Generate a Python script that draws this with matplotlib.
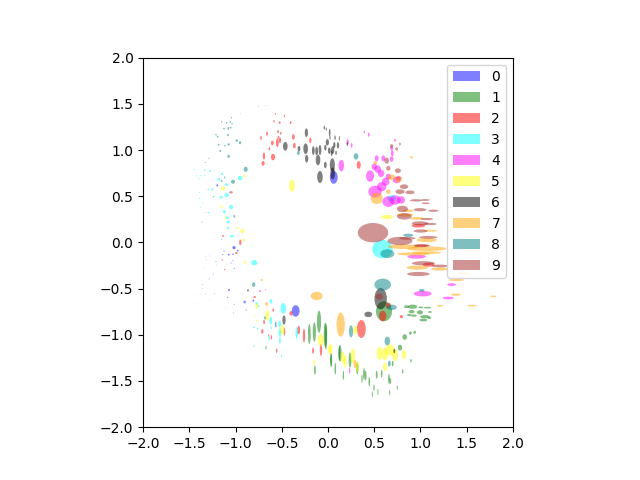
import matplotlib
matplotlib.use('Agg')
import matplotlib.pyplot as plt
from matplotlib.patches import Ellipse

# one list per mixture component, every entry is (mean x, mean y, width, height)
comp_0 = [(.062,.704,.085,.14),(-1.198,.617,.02,.025),(-1.017,-.057,.035,.035),(-.977,-.09,.02,.018),
    (-1.028,-.129,.018,.015),(-1.075,-.133,.02,.02),(-1.125,-.093,.01,.016),(-1.14,-.129,.016,.01),
    (-1.028,-.197,.012,.01),(-1.05,-.223,.012,.01),(-1.014,-.28,.016,.01),(-1.212,-.205,.01,.008),
    (-1.205,-.245,.007,.007),(-1.097,-.234,.008,.006),(-1.284,-.147,.008,.005),(-1.328,-.151,.006,.005),
    (-1.151,.033,.016,.006),(-1.313,-.19,.006,.006),(-1.349,-.28,.006,.006),(-1.241,-.345,.008,.008),
    (-1.284,-.396,.014,.008),(-1.36,-.454,.006,.006),(-1.356,-.5,.008,.006),(-.35,-.742,.085,.125),
    (-1.071,-.515,.02,.025),(-.902,-.645,.025,.03),(-.808,-.631,.02,.025),(-1.014,-.67,.01,.013),
    (-1.23,-.551,.009,.007),(-1.36,-.457,.006,.006),(-1.024,-.764,.007,.011),(-1.107,-.714,.008,.005),
    (-1.284,-.623,.006,.006),(-1.324,-.558,.007,.005),(-1.385,-.562,.007,.005),(-1.432,-.562,.005,.004),
    (-1.482,-.562,.004,.004),(-1.392,-.667,.005,.005),(-1.44,-.66,.004,.004),(-1.486,-.746,.004,.004)]
comp_1 = [(-.097,-.858,.045,.24),(-.148,-.97,.035,.21),(-.202,-.991,.03,.22),(-.029,-1.002,.035,.27),
    (-.022,-1.02,.025,.29),(.036,-1.273,.02,.145),(.079,-1.367,.018,.13),(-.141,-1.381,.02,.1),
    (.123,-1.2,.018,.16),(-.671,-1.139,.012,.045),(.13,-1.2,.035,.18),(.032,-1.273,.018,.145),
    (.166,-1.439,.015,.1),(.238,-1.273,.03,.165),(.317,-1.363,.025,.13),(.39,-1.424,.02,.13),
    (.408,-1.442,.018,.11),(.368,-1.475,.015,.095),(.447,-1.507,.018,.1),(.498,-1.572,.015,.07),
    (.541,-1.619,.012,.065),(.48,-1.644,.012,.07),(.667,-1.626,.012,.06),(.75,-1.572,.012,.05),
    (.527,-1.431,.02,.085),(.581,-1.421,.018,.085),(.66,-1.478,.02,.11),(.675,-1.5,.018,.065),
    (.808,-1.396,.015,.05),(.7,-1.312,.02,.06),(.898,-1.28,.018,.035),(.779,-1.139,.045,.065),
    (.83,-1.024,.05,.06),(.891,-.981,.03,.035),(.938,-.973,.03,.03),(.606,-.746,.175,.215),
    (.916,-.696,.1,.045),(.851,-.696,.06,.03),(1.003,-.703,.05,.02),(1.075,-.706,.085,.018),
    (.905,-.75,.065,.035),(.996,-.757,.065,.045),(1.104,-.753,.045,.018),(.88,-.786,.05,.025),
    (.93,-.793,.06,.025),(1.05,-.804,.11,.035),(1.032,-.84,.085,.03),(1.097,-.818,.045,.02),
    (-1.151,.664,.02,.02),(-1.241,.495,.015,.012)]
comp_2 = [(-.595,.924,.045,.07),(-.693,.935,.025,.08),(-.703,.856,.035,.05),(-.635,1.014,.02,.035),
    (-.602,1.076,.03,.05),(-.548,1.079,.03,.095),(-.52,1.105,.025,.06),(-.725,1.13,.018,.045),
    (-.66,1.177,.02,.045),(-.541,1.198,.02,.035),(-.512,1.18,.018,.03),(-.537,1.137,.018,.035),
    (-.584,1.31,.015,.03),(-.523,1.296,.02,.03),(-.404,1.296,.018,.035),(-.472,1.368,.012,.03),
    (-.57,1.39,.012,.02),(-.375,1.141,.03,.06),(-.364,1.047,.03,.06),(-.191,1.105,.025,.06),
    (.332,.838,.045,.085),(-.949,.0,.025,.06),(-1.136,.069,.02,.02),(-.992,-.115,.03,.02),
    (-1.147,-.19,.015,.018),(-1.118,-.295,.015,.015),(-.754,1.473,.008,.01),(-.678,1.48,.006,.01),
    (-.945,1.39,.007,.007),(-1.363,.221,.012,.012),(-1.32,.325,.008,.008),(.361,-.937,.095,.195),
    (.592,-.797,.08,.115),(.653,-.685,.06,.065),(.794,-.804,.035,.035),(.765,.693,.06,.05),
    (1.014,-.035,.14,.02),(1.09,-.241,.13,.045),(.978,.181,.15,.04),(-.4,-.768,.035,.05),
    (-.592,-.732,.02,.035),(-.692,-.862,.02,.045),(-.711,-.963,.025,.05),(-.613,-1.027,.015,.05),
    (-.642,-1.006,.012,.03),(-.472,-.966,.018,.085),(-.317,-.948,.03,.095),(-.26,-1.009,.025,.155),
    (-.162,-1.172,.02,.07),(-.076,-1.165,.025,.13),(-.556,-1.172,.015,.05),(-.794,-.591,.03,.02)]
comp_3 = [(.588,-.072,.22,.2),(.689,.477,.1,.07),(-.483,-.714,.06,.115),(-.617,-.638,.03,.05),
    (-.772,-.66,.03,.03),(-.754,-.688,.02,.03),(-.62,-.847,.03,.085),(-.523,-.883,.03,.07),
    (-.52,-.977,.03,.095),(-.52,-1.063,.02,.07),(-.339,-.977,.025,.13),(-.638,-1.038,.02,.05),
    (-.617,-.923,.015,.035),(-.761,-.934,.015,.03),(-.801,-.919,.02,.02),(-.801,-1.125,.015,.015),
    (-.505,-1.226,.01,.035),(-.797,-.22,.065,.06),(-1.039,.066,.045,.025),(-1.082,.156,.03,.025),
    (-1.079,.221,.035,.035),(-1.09,.268,.035,.03),(-1.122,.333,.035,.035),(-1.05,.383,.045,.045),
    (-1.158,.488,.035,.03),(-1.097,.513,.045,.045),(-.952,.697,.05,.05),(-1.097,.625,.035,.03),
    (-1.183,.682,.03,.03),(-1.147,.74,.025,.025),(-1.277,.773,.025,.02),(-1.335,.783,.018,.018),
    (-1.447,.787,.012,.012),(-1.421,.719,.012,.012),(-1.378,.726,.012,.012),(-1.335,.726,.014,.012),
    (-1.403,.69,.012,.012),(-1.295,.571,.018,.018),(-1.252,.574,.025,.025),(-1.389,.542,.012,.012),
    (-1.389,.477,.01,.012),(-1.353,.426,.012,.012),(-1.378,.379,.01,.012),(-1.291,.322,.018,.018)]
comp_4 = [(.144,.831,.06,.125),(.213,1.087,.025,.06),(.256,1.05,.02,.05),(.44,1.166,.02,.045),
    (.393,1.195,.015,.03),(.725,1.105,.02,.03),(.689,.902,.04,.06),(.696,.964,.03,.065),(.689,1.018,.03,.05),
    (.599,.91,.043,.065),(.527,.91,.043,.065),(.501,.82,.058,.072),(.455,.718,.087,.123),
    (.574,.747,.072,.08),(.537,.794,.072,.08),(.653,.711,.058,.065),(.743,.675,.087,.072),
    (.624,.657,.08,.087),(.509,.549,.145,.13),(.581,.603,.1,.1),
    (.653,.441,.13,.115),(.725,.459,.12,.1),(.79,.459,.087,.08),(.96,-.154,.2,.045),
    (1.338,-.457,.095,.03),(1.302,-.602,.12,.03),(1.024,-.555,.195,.06),(.234,-1.388,.015,.065),
    (-.736,-.526,.02,.025),(-.678,-.512,.01,.015)]
comp_5 = [(.639,.275,.13,.045),(.559,-1.2,.065,.14),(.617,-1.208,.065,.14),(.671,-1.165,.095,.125),
    (.725,-1.219,.065,.13),(.823,-1.215,.05,.095),(.617,-1.348,.045,.095),(.296,-.948,.045,.1),
    (.02,-1.157,.04,.11),(.159,-1.244,.045,.12),(.184,-1.29,.035,.13),(.27,-1.23,.05,.165),
    (.317,-1.345,.035,.12),(-.079,-1.056,.065,.13),(-.657,-.793,.045,.11),(-.772,-.688,.03,.06),
    (.029,-1.154,.025,.1),(-.151,-1.3,.02,.065),(-.494,-.948,.045,.11),(-.772,-.847,.02,.02),
    (-.79,-.804,.015,.02),(-.39,.614,.065,.13),(-1.136,.585,.045,.05),(-.905,.719,.03,.03),
    (-1.154,.387,.035,.025),(-1.115,.264,.02,.03),(-.978,.152,.03,.025),(-.927,.123,.045,.045),
    (-.916,.026,.035,.025),(-.902,-.216,.03,.025)]
comp_6 = [(-.087,.708,.06,.13),(.047,.838,.055,.145),(.051,.747,.05,.13),(-.108,.892,.05,.115),
    (-.029,.838,.03,.07),(-.231,.906,.035,.085),(-.242,1.014,.05,.115),(-.234,1.187,.035,.095),
    (-.462,1.04,.05,.095),(-.314,1.014,.03,.06),(-.159,.993,.03,.095),(-.123,.989,.03,.095),
    (-.087,1.0,.03,.11),(-.029,1.025,.025,.065),(-.007,1.083,.035,.07),(.014,.993,.03,.07),
    (.051,1.0,.035,.085),(.068,1.054,.025,.065),(.108,1.05,.025,.07),(.087,.97,.018,.045),
    (.04,.964,.02,.06),(.018,1.187,.018,.085),(.022,1.13,.012,.045),(.076,1.133,.015,.05),
    (.123,1.126,.012,.05),(-.04,1.242,.015,.045),(-.018,1.227,.012,.035),(.209,1.065,.015,.045),
    (.57,-.609,.135,.23),(.436,-.779,.085,.06),(.718,-1.175,.02,.05),
    (-.476,-.84,.035,.1),(-.866,-.519,.02,.025),(-1.086,-.594,.015,.01)]
comp_7 = [(.527,.477,.13,.125),(.905,.921,.035,.025),(.833,.297,.18,.035),(.869,.343,.11,.03),
    (.96,.26,.145,.03),(1.104,.127,.16,.02),(1.068,.026,.22,.045),(.815,-.046,.34,.05),
    (1.068,-.068,.43,.05),(1.068,-.111,.32,.03),(.924,-.125,.36,.035),(.967,-.273,.235,.045),
    (1.212,-.288,.2,.035),(1.392,-.407,.165,.025),(1.382,-.565,.11,.025),(1.789,-.584,.07,.018),
    (1.212,-.685,.07,.018),(1.562,-.685,.11,.018),(1.465,-.335,.14,.02),(.512,.863,.04,.04),
    (.689,.704,.085,.06),(.761,.675,.07,.05),(.653,.549,.05,.05),(.137,-.89,.09,.26),
    (-.123,-.58,.13,.09),(-.664,-.667,.035,.04),(-.718,-.407,.03,.02),(.292,-1.316,.03,.09)]
comp_8 = [(.303,.931,.05,.07),(.592,-.457,.18,.13),(.869,.077,.11,.035),(.642,-.122,.15,.095),
    (1.014,-.519,.06,.03),(.689,-.703,.11,.06),(.249,-.963,.045,.13),(.642,-1.067,.06,.095),
    (.664,-1.312,.03,.065),(-.804,-.457,.035,.05),(-.682,-.818,.02,.035),(-.566,-.89,.02,.065),
    (-.887,-.732,.012,.018),(-.891,.791,.045,.055),(-1.028,.657,.045,.045),(-1.118,.704,.015,.02),
    (-1.014,.282,.02,.03),(-1.075,.931,.03,.03),(-1.165,.989,.02,.025),(-1.183,1.058,.02,.02),
    (-1.118,1.047,.018,.018),(-1.075,1.061,.025,.025),(-.988,1.101,.025,.03),(-.952,1.079,.025,.035),
    (-1.082,1.162,.02,.025),(-1.194,1.144,.018,.02),(-1.212,1.166,.015,.02),(-1.125,1.231,.02,.02),
    (-1.079,1.234,.02,.03),(-1.053,1.242,.018,.018),(-1.151,1.303,.012,.018),(-1.097,1.296,.015,.018),
    (-1.057,1.303,.015,.02),(-1.039,1.285,.015,.02),(-1.046,1.35,.012,.02),(-1.288,.91,.015,.01),
    (-1.328,.866,.015,.01),(-.321,.967,.03,.045)]
comp_9 = [(.487,.105,.33,.21),(.779,.015,.27,.09),(.805,.362,.12,.07),(.826,.282,.16,.07),
    (.996,.354,.14,.035),(1.14,.343,.11,.025),(.952,.455,.13,.025),(1.053,.459,.10,.02),
    (1.057,.423,.09,.018),(.887,.542,.10,.04),(.823,.603,.09,.05),(.779,.549,.10,.05),
    (.757,.776,.065,.05),(.653,.802,.045,.05),(.635,.885,.05,.065),(.689,1.043,.035,.04),
    (.743,1.011,.03,.035),(.779,1.065,.02,.03),(1.068,.253,.14,.025),(.996,.206,.18,.045),
    (1.104,.199,.145,.025),(1.003,.123,.15,.035),(1.086,.055,.2,.03),(.858,.044,.18,.03),
    (1.014,-.035,.18,.035),(1.032,-.226,.25,.045),(1.212,-.255,.18,.03),(.978,-.342,.245,.045),
    (.555,-.587,.08,.065),(-1.05,.542,.04,.025)]

components = [comp_0, comp_1, comp_2, comp_3, comp_4, comp_5, comp_6, comp_7, comp_8, comp_9]
colors = ['blue', 'green', 'red', 'cyan', 'magenta', 'yellow', 'black', 'orange', 'teal', 'brown']

fig, ax = plt.subplots()

for k, comp in enumerate(components):
    for j, (mx, my, w, h) in enumerate(comp):
        e = Ellipse((mx, my), w, h, color=colors[k], alpha=0.5, lw=0)
        if j == 0:
            e.set_label(str(k))
        ax.add_patch(e)

ax.set_xlim(-2, 2)
ax.set_ylim(-2, 2)
ax.set_aspect('equal')
ax.legend(loc='upper right')

plt.savefig('out.png', dpi=100)
